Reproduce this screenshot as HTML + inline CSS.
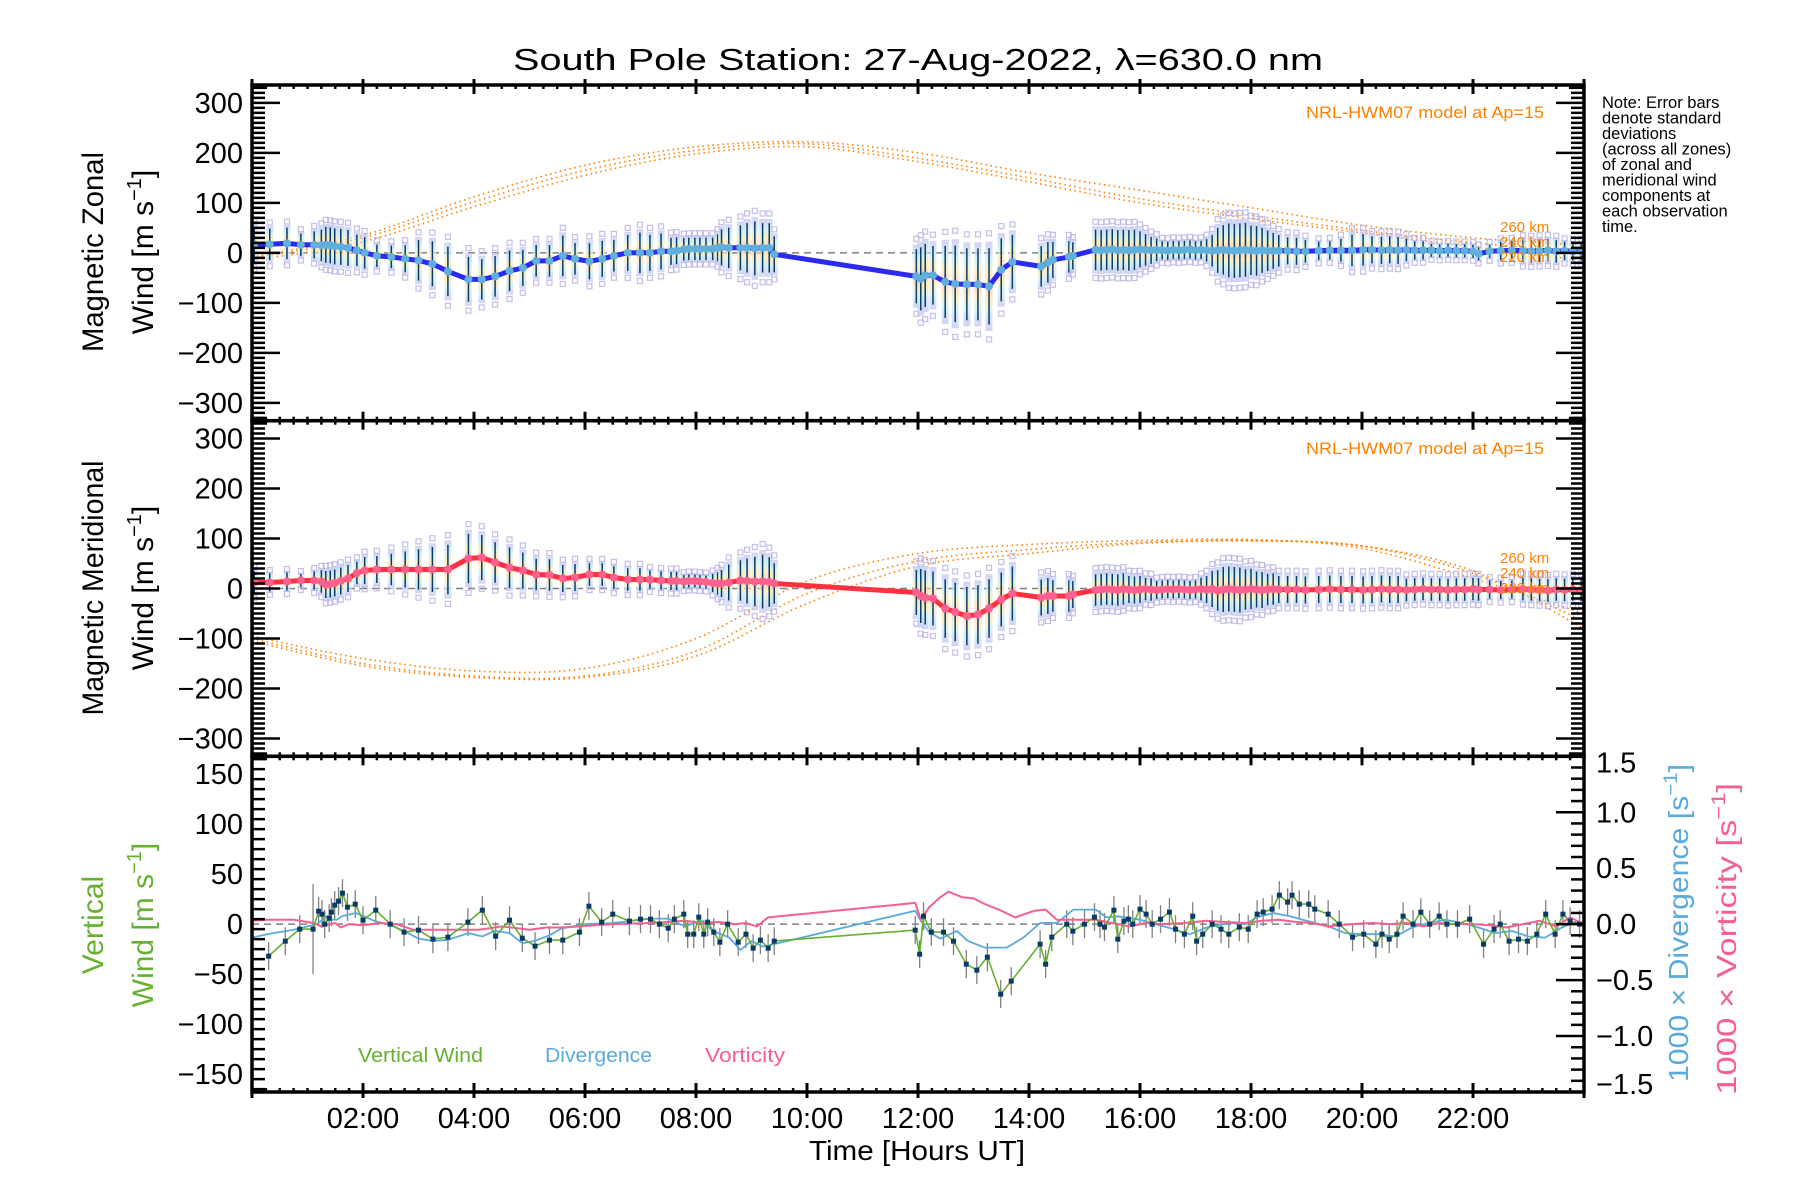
<!DOCTYPE html>
<html><head><meta charset="utf-8">
<style>
html,body{margin:0;padding:0;background:#fff;}
svg{display:block;font-family:"Liberation Sans",sans-serif;}
</style></head>
<body>
<svg id="chart" xmlns="http://www.w3.org/2000/svg" width="1800" height="1200" viewBox="0 0 1800 1200">
<defs>
<linearGradient id="rb" x1="0" y1="0" x2="0" y2="1">
<stop offset="0" stop-color="#c4c4f0"/><stop offset="0.2" stop-color="#c8ecf4"/><stop offset="0.35" stop-color="#fbeab0"/><stop offset="0.5" stop-color="#f9c3b3"/><stop offset="0.65" stop-color="#fbeab0"/><stop offset="0.8" stop-color="#c8ecf4"/><stop offset="1" stop-color="#c4c4f0"/>
</linearGradient>
</defs>
<text x="918" y="70" font-size="31" text-anchor="middle" textLength="810" lengthAdjust="spacingAndGlyphs">South Pole Station: 27-Aug-2022, λ=630.0 nm</text>
<g id="layer"></g>
<text font-size="16.5" fill="#000">
<tspan x="1602" y="108">Note: Error bars</tspan><tspan x="1602" y="123.5">denote standard</tspan><tspan x="1602" y="139">deviations</tspan><tspan x="1602" y="154.5">(across all zones)</tspan><tspan x="1602" y="170">of zonal and</tspan><tspan x="1602" y="185.5">meridional wind</tspan><tspan x="1602" y="201">components at</tspan><tspan x="1602" y="216.5">each observation</tspan><tspan x="1602" y="232">time.</tspan>
</text>
<text x="1544" y="118" font-size="17" fill="#ff8000" text-anchor="end" textLength="238" lengthAdjust="spacingAndGlyphs">NRL-HWM07 model at Ap=15</text>
<text x="1544" y="454" font-size="17" fill="#ff8000" text-anchor="end" textLength="238" lengthAdjust="spacingAndGlyphs">NRL-HWM07 model at Ap=15</text>
<g font-size="15" fill="#ff8000">
<text x="1500" y="232">260 km</text><text x="1500" y="247">240 km</text><text x="1500" y="262">220 km</text></g>
<g font-size="15" fill="#ff8000">
<text x="1500" y="563">260 km</text><text x="1500" y="578">240 km</text><text x="1500" y="593">220 km</text></g>
<text transform="translate(103,252) rotate(-90)" font-size="30" text-anchor="middle" textLength="200" lengthAdjust="spacingAndGlyphs">Magnetic Zonal</text>
<text transform="translate(153,252) rotate(-90)" font-size="30" text-anchor="middle">Wind [m s<tspan dy="-12" font-size="20">−1</tspan><tspan dy="12">]</tspan></text>
<text transform="translate(103,588) rotate(-90)" font-size="30" text-anchor="middle" textLength="255" lengthAdjust="spacingAndGlyphs">Magnetic Meridional</text>
<text transform="translate(153,588) rotate(-90)" font-size="30" text-anchor="middle">Wind [m s<tspan dy="-12" font-size="20">−1</tspan><tspan dy="12">]</tspan></text>
<text transform="translate(103,925) rotate(-90)" font-size="30" fill="#66b032" text-anchor="middle">Vertical</text>
<text transform="translate(153,925) rotate(-90)" font-size="30" fill="#66b032" text-anchor="middle">Wind [m s<tspan dy="-12" font-size="20">−1</tspan><tspan dy="12">]</tspan></text>
<text transform="translate(1688,923) rotate(-90)" font-size="28" fill="#5aaadc" text-anchor="middle" textLength="318" lengthAdjust="spacingAndGlyphs">1000 × Divergence [s<tspan dy="-11" font-size="19">−1</tspan><tspan dy="11">]</tspan></text>
<text transform="translate(1736,939) rotate(-90)" font-size="28" fill="#f5608c" text-anchor="middle" textLength="312" lengthAdjust="spacingAndGlyphs">1000 × Vorticity [s<tspan dy="-11" font-size="19">−1</tspan><tspan dy="11">]</tspan></text>
<text x="917" y="1160" font-size="28" text-anchor="middle" textLength="216" lengthAdjust="spacingAndGlyphs">Time [Hours UT]</text>
<text x="358" y="1062" font-size="20" fill="#66b032" textLength="125" lengthAdjust="spacingAndGlyphs">Vertical Wind</text>
<text x="545" y="1062" font-size="20" fill="#5aaadc" textLength="107" lengthAdjust="spacingAndGlyphs">Divergence</text>
<text x="705" y="1062" font-size="20" fill="#f5608c" textLength="80" lengthAdjust="spacingAndGlyphs">Vorticity</text>
</svg>
<script>
// ---- data ----
const obsT = [0.04,0.32,0.63,0.88,1.12,1.25,1.33,1.41,1.49,1.6,1.73,1.89,2.03,2.25,2.51,2.76,3.0,3.25,3.53,3.9,4.14,4.38,4.64,4.88,5.12,5.36,5.6,5.82,6.08,6.31,6.52,6.77,6.99,7.17,7.37,7.55,7.65,7.78,7.87,7.98,8.07,8.18,8.3,8.39,8.46,8.59,8.8,8.92,9.06,9.2,9.32,9.41,
11.97,12.05,12.13,12.27,12.49,12.67,12.88,13.08,13.28,13.5,13.7,14.22,14.34,14.43,14.72,14.79,
15.2,15.3,15.4,15.5,15.6,15.7,15.8,15.9,16.0,16.1,16.2,16.3,16.4,16.5,16.6,16.7,16.8,16.9,17.0,17.1,17.2,17.3,17.4,17.5,17.6,17.7,17.8,17.9,18.0,18.1,18.2,18.3,18.4,18.5,
18.66,18.82,18.98,19.22,19.42,19.62,19.82,20.02,20.18,20.35,20.5,20.65,20.8,20.95,21.1,21.25,21.4,21.55,21.7,21.85,22.0,22.1,22.3,22.5,22.7,22.9,23.05,23.2,23.35,23.5,23.65,23.8,23.95];
const zonalU = [17,17,19,16,16,15,16,15,13,12,10,5,0,-6,-8,-12,-15,-22,-37,-53,-53,-47,-36,-30,-16,-16,-6,-12,-17,-12,-6,0,0,0,3,3,4,7,8,8,8,8,8,10,11,10,10,10,9,10,10,-3,
-47,-52,-45,-45,-58,-62,-63,-63,-67,-34,-18,-27,-19,-14,-8,-6,
6,5,6,7,5,6,5,6,7,6,5,6,5,4,6,5,6,7,5,6,5,4,5,6,5,4,5,6,5,4,5,4,4,4,
4,3,3,4,5,5,5,6,6,5,6,5,6,5,5,5,4,5,4,4,3,-2,3,4,5,4,3,4,5,3,4,3,3];
const zonalSd = [40,35,35,25,30,35,40,40,40,40,40,35,35,25,25,30,45,50,55,50,45,45,45,40,35,35,45,35,40,40,35,40,45,40,40,30,30,25,25,25,25,25,25,30,40,45,50,55,60,55,55,40,
60,70,70,65,80,85,80,80,85,70,60,45,45,40,35,30,
45,45,45,45,45,45,45,45,40,35,30,25,20,20,20,20,20,20,20,20,25,35,50,55,60,60,60,60,55,55,50,45,40,35,
30,30,25,20,20,25,35,35,30,30,30,30,25,20,20,15,15,15,15,15,15,15,15,20,20,25,25,25,25,25,20,20,20];
const meridV = [12,12,14,16,16,14,8,9,11,15,20,31,36,38,38,38,38,38,38,60,62,52,42,36,28,27,20,22,28,28,22,18,18,18,16,15,15,14,15,15,14,13,11,10,10,12,16,15,14,14,13,10,
-8,-15,-18,-20,-40,-47,-55,-52,-40,-22,-10,-18,-15,-15,-15,-12,
-3,-2,-1,-2,-3,-1,-2,-3,-2,-1,-2,-3,-2,-1,-2,-1,-2,-3,-2,-1,-2,-1,-4,-2,-1,-2,-3,-2,-1,-2,-3,-2,-1,-2,
-2,-2,-3,-2,-1,-2,-2,-3,-2,-1,-2,-2,-3,-2,-1,-2,-2,-3,-2,-2,-1,-2,-2,-3,-2,-1,-2,-3,-4,-2,-3,-2,-3];
const meridSd = [25,20,20,15,20,25,30,30,30,30,30,25,30,30,35,40,45,50,55,55,50,45,45,40,35,35,30,30,25,25,25,25,25,20,20,20,20,15,15,15,15,15,20,25,30,40,45,50,55,60,55,45,
50,60,60,60,65,65,65,65,65,60,60,40,40,35,35,30,
35,35,35,35,35,35,30,30,30,25,25,20,20,20,20,20,20,20,20,25,30,40,45,50,50,50,50,45,45,40,40,35,35,30,
30,30,30,30,30,30,30,30,30,30,30,30,25,25,25,25,25,25,25,25,25,25,20,20,20,25,25,25,25,25,25,25,25];
const modelT = [0,2,4,6,8,10,12,14,16,18,20,22,24];
const zonA = [-8,35,112,175,212,222,200,160,125,90,55,30,15];
const zonB = [-11,30,102,165,205,218,189,150,108,75,45,20,2];
const zonC = [-15,22,92,155,198,212,182,142,100,68,40,12,-15];
const merA = [-95,-140,-165,-160,-100,15,70,88,96,98,80,20,-50];
const merB = [-100,-150,-175,-175,-125,-10,55,78,92,96,85,30,-65];
const merC = [-105,-155,-178,-178,-135,-30,45,70,90,95,85,35,-80];
const vT = [0.3,0.6,0.86,1.1,1.2,1.26,1.31,1.39,1.43,1.49,1.56,1.63,1.72,1.86,2.0,2.23,2.49,2.74,3.0,3.26,3.53,3.89,4.15,4.39,4.64,4.87,5.1,5.36,5.6,5.9,6.07,6.3,6.5,6.8,7.0,
7.18,7.34,7.5,7.61,7.78,7.85,7.96,8.05,8.14,8.21,8.32,8.43,8.57,8.76,8.9,9.03,9.16,9.3,9.41,
11.95,12.03,12.1,12.24,12.46,12.64,12.87,13.06,13.25,13.49,13.68,14.2,14.3,14.41,14.68,14.79,15.0,15.18,15.28,15.36,15.53,15.6,15.71,15.79,15.87,16.0,16.11,16.22,16.37,16.53,16.64,16.8,16.95,17.02,17.13,17.3,17.46,17.6,17.79,17.95,18.11,18.22,18.38,18.51,18.66,18.74,18.87,19.04,19.15,19.39,19.59,19.83,20.03,20.25,20.36,20.49,20.63,20.74,20.92,21.06,21.22,21.39,21.53,21.72,21.94,22.19,22.38,22.49,22.65,22.82,22.98,23.15,23.31,23.48,23.62,23.75,23.92];
const vW = [-32,-17,-5,-5,13,10,0,6,12,19,23,31,17,20,4,14,0,-8,-6,-15,-13,2,14,-12,4,-14,-22,-16,-16,-8,18,2,10,3,5,
5,0,-4,5,10,-10,-10,7,-10,2,-8,-18,0,-18,-10,-24,-16,-24,-17,
-6,-30,8,-8,-8,-17,-40,-46,-33,-70,-57,-20,-40,-13,0,-7,0,7,0,-3,14,-15,3,5,0,15,10,0,5,12,-5,-10,8,-17,-10,0,-5,-10,-3,-5,10,12,15,29,22,29,20,20,15,10,0,-13,-10,-20,-10,-15,-10,8,0,12,0,8,0,0,5,-20,-5,0,-17,-15,-17,-10,10,-10,10,3,0];
const divT = [0,0.27,0.75,1.17,1.35,1.44,1.53,1.62,1.87,2.02,2.2,2.5,2.74,3.0,3.26,3.53,3.9,4.15,4.37,4.64,4.87,5.1,5.36,5.57,6.0,6.5,7.18,7.5,7.8,8.1,8.3,8.6,8.8,9.0,9.2,9.4,11.95,12.05,12.2,12.4,12.7,12.9,13.2,13.6,13.9,14.2,14.5,14.8,15.2,15.4,15.6,16,16.5,16.9,17.2,17.6,17.9,18.1,18.4,18.7,19,19.4,19.7,20,20.3,20.6,20.9,21.2,21.5,21.8,22.1,22.4,22.7,23,23.3,23.6,23.9];
const divV = [-0.12,-0.09,-0.05,0,0.07,0.04,0.04,0.07,0.1,0.07,0.03,-0.01,-0.06,-0.13,-0.15,-0.14,-0.08,-0.11,-0.06,-0.08,-0.17,-0.15,-0.1,-0.04,0.0,0.01,0.05,0.05,-0.02,0.03,-0.06,-0.12,-0.23,-0.15,-0.2,-0.18,0.12,0.03,-0.07,-0.13,-0.06,-0.15,-0.21,-0.21,-0.12,0.01,0.01,0.13,0.13,0.06,0.07,0.04,-0.03,-0.09,-0.03,0.01,0,0.06,0.1,0.07,0.03,-0.02,-0.08,-0.09,-0.09,-0.11,-0.03,0.01,0.04,0.01,-0.03,-0.08,-0.06,-0.11,-0.12,-0.03,0.03];
const vorT = [0,0.27,0.75,1.1,1.25,1.5,1.6,1.75,2.0,2.3,2.6,2.9,3.3,3.6,4.1,4.5,5.0,5.3,5.6,6.5,7.18,7.5,7.8,8.1,8.4,8.7,8.9,9.1,9.3,11.95,12.05,12.2,12.4,12.55,12.8,13.0,13.2,13.5,13.75,14.1,14.3,14.5,14.8,15.2,15.5,15.8,16.1,16.4,16.8,17.2,17.5,17.9,18.2,18.5,18.8,19.1,19.4,19.8,20.2,20.5,20.8,21.1,21.4,21.7,22.0,22.3,22.6,22.9,23.2,23.5,23.75,23.95];
const vorV = [0.03,0.04,0.04,0.01,-0.02,0.01,-0.03,0,-0.01,0.01,0,-0.05,-0.05,-0.05,-0.05,-0.02,-0.05,-0.03,-0.03,0,0.01,0.02,0.03,0.01,0.02,0,0.01,-0.02,0.06,0.19,0.04,0.15,0.24,0.29,0.24,0.23,0.18,0.12,0.06,0.12,0.13,0.04,0.04,0.04,0.01,-0.02,0.01,0,0.01,0.03,0.02,0.01,0.03,0.04,0.02,0.01,-0.02,0,0.01,0,0.01,-0.02,0.01,0,0,-0.01,-0.03,0,0.03,-0.02,0.06,0.01];
const leftTicks12 = [-300,-200,-100,0,100,200,300];
const leftTicks3 = [-150,-100,-50,0,50,100,150];
const rightTicks3 = [-1.5,-1.0,-0.5,0.0,0.5,1.0,1.5];
const timeTicks = [2,4,6,8,10,12,14,16,18,20,22];

// ---- geometry ----
const L = 252, R = 1584;
const P = [{top:85,bot:420.7},{top:420.7,bot:756.3},{top:756.3,bot:1092}];
const NS = 'http://www.w3.org/2000/svg';
const layer = document.getElementById('layer');
function xs(h){ return L + (R-L)*h/24; }
function yP(i,v){ const p=P[i], c=(p.top+p.bot)/2; return i<2 ? c - v*0.5 : c - v*1.0; }
function yR(v){ const p=P[2], c=(p.top+p.bot)/2; return c - v*(p.bot-c)/1.5; }
function mk(tag, attrs, parent){ const e=document.createElementNS(NS,tag); for(const k in attrs) e.setAttribute(k, attrs[k]); (parent||layer).appendChild(e); return e; }
function grp(name){ const g=document.createElementNS(NS,'g');   layer.appendChild(g); return g; }
const fmt = t => (t<10?'0':'')+t+':00';

for (let i=0;i<3;i++){
  const z = mk('line',{x1:L,x2:R,y1:yP(i,0),y2:yP(i,0),stroke:'#808080','stroke-width':1.5,'stroke-dasharray':'7 5'});
  
  
}

function smoothPath(xsArr, ysArr){
  let d='M'+xsArr[0].toFixed(1)+','+ysArr[0].toFixed(1);
  for (let k=0;k<xsArr.length-1;k++){
    const x0=xsArr[Math.max(k-1,0)], y0=ysArr[Math.max(k-1,0)], x1=xsArr[k], y1=ysArr[k], x2=xsArr[k+1], y2=ysArr[k+1], x3=xsArr[Math.min(k+2,xsArr.length-1)], y3=ysArr[Math.min(k+2,xsArr.length-1)];
    d+='C'+(x1+(x2-x0)/6).toFixed(1)+','+(y1+(y2-y0)/6).toFixed(1)+' '+(x2-(x3-x1)/6).toFixed(1)+','+(y2-(y3-y1)/6).toFixed(1)+' '+x2.toFixed(1)+','+y2.toFixed(1);
  }
  return d;
}
function modelSmooth(i, arr, name){
  const e = mk('path',{d:smoothPath(modelT.map(xs), arr.map(v=>yP(i,v))),fill:'none',stroke:'#ff8000','stroke-width':1.6,'stroke-dasharray':'1.5 3.5'});
  
  
}
modelSmooth(0, zonA, 'zonal-model-260km');
modelSmooth(0, zonB, 'zonal-model-240km');
modelSmooth(0, zonC, 'zonal-model-220km');
modelSmooth(1, merA, 'meridional-model-260km');
modelSmooth(1, merB, 'meridional-model-240km');
modelSmooth(1, merC, 'meridional-model-220km');

function errBars(i, vals, sds, name){
  const g = grp(name);
  for (let k=0;k<obsT.length;k++){
    const x = xs(obsT[k]), v = vals[k], s = sds[k];
    const r = mk('rect',{x:x-3.5,y:yP(i,v+s*1.05),width:7,height:Math.max(2,yP(i,v-s*1.05)-yP(i,v+s*1.05)),fill:'url(#rb)',opacity:0.75},g);
    
    
    const ln = mk('line',{x1:x,x2:x,y1:yP(i,v+s*0.9),y2:yP(i,v-s*0.9),stroke:'#0a3a66','stroke-width':1.5},g);
    
    
    [1.25,-1.25].forEach(f=>{
      const q = mk('rect',{x:x-2.5,y:yP(i,v+s*f)-2.5,width:5,height:5,fill:'none',stroke:'#b8b4e4','stroke-width':1.2,opacity:0.85},g);
      
      
    });
  }
}
errBars(0, zonalU, zonalSd, 'zonal-error-bars');
errBars(1, meridV, meridSd, 'meridional-error-bars');

function seriesLine(i, tArr, vArr, color, width, name, yf){
  const f = yf || (v=>yP(i,v));
  let d='';
  const n = Math.min(tArr.length, vArr.length);
  for (let k=0;k<n;k++) d += (k?'L':'M') + xs(tArr[k]).toFixed(1)+','+f(vArr[k]).toFixed(1);
  const e = mk('path',{d:d,fill:'none',stroke:color,'stroke-width':width,'stroke-linejoin':'round'});
  
  
}
function dots(i, tArr, vArr, color, r, name){
  const g = grp(name);
  for (let k=0;k<Math.min(tArr.length,vArr.length);k++){
    const c = mk('circle',{cx:xs(tArr[k]),cy:yP(i,vArr[k]),r:r,fill:color},g);
    
    
  }
}
seriesLine(0, obsT, zonalU, '#2a2af0', 5, 'zonal-wind-line');
dots(0, obsT, zonalU, '#5fb0dc', 4, 'zonal-wind-points');
seriesLine(1, obsT, meridV, '#ff3040', 5, 'meridional-wind-line');
dots(1, obsT, meridV, '#ff6090', 4, 'meridional-wind-points');

const vg = grp('vertical-wind-error-bars');
for (let k=0;k<vT.length;k++){
  const x=xs(vT[k]), v=vW[k], s=(k===3?45:14);
  const e = mk('line',{x1:x,x2:x,y1:yP(2,v+s),y2:yP(2,v-s),stroke:'#808080','stroke-width':1.3},vg);
  
  
}
seriesLine(2, divT, divV, '#5aaadc', 1.8, 'divergence-line', yR);
seriesLine(2, vorT, vorV, '#f5608c', 2, 'vorticity-line', yR);
seriesLine(2, vT, vW, '#66b032', 1.6, 'vertical-wind-line');
const pg = grp('vertical-wind-points');
for (let k=0;k<vT.length;k++){
  const r = mk('rect',{x:xs(vT[k])-2.5,y:yP(2,vW[k])-2.5,width:5,height:5,fill:'#0a3a66'},pg);
  
  
}

const ax = grp('axes');
for (let i=0;i<3;i++){
  const b = mk('rect',{x:L,y:P[i].top,width:R-L,height:P[i].bot-P[i].top,fill:'none',stroke:'#000','stroke-width':3.5},ax);
  
  
  for (let m=0;m<=96;m++){
    const x = xs(m/4), major = (m%8===0);
    const lenIn = major?9:4, lenOut = major?6:0;
    mk('line',{x1:x,x2:x,y1:P[i].top-lenOut,y2:P[i].top+lenIn,stroke:'#000','stroke-width':major?3:2.5},ax);
    mk('line',{x1:x,x2:x,y1:P[i].bot-lenIn,y2:P[i].bot+lenOut,stroke:'#000','stroke-width':major?3:2.5},ax);
  }
  const step = 10, range = i<2?330:165;
  for (let v=-range; v<=range; v+=step){
    const y = yP(i,v); if (y<P[i].top+1||y>P[i].bot-1) continue;
    const major = (i<2 ? v%100===0 : v%50===0);
    const len = major?28:13;
    mk('line',{x1:L,x2:L+len,y1:y,y2:y,stroke:'#000','stroke-width':2.5},ax);
    if (i<2) mk('line',{x1:R-len,x2:R,y1:y,y2:y,stroke:'#000','stroke-width':2.5},ax);
  }
}
for (let k=-15;k<=15;k++){
  const v=k/10, y=yR(v), major=(k%5===0), len=major?28:13;
  mk('line',{x1:R-len,x2:R,y1:y,y2:y,stroke:'#000','stroke-width':2.5},ax);
}
const lab = grp('tick-labels');
function tl(x,y,txt,anchor,name){
  const t = mk('text',{x:x,y:y,'font-size':29,'text-anchor':anchor},lab);
  t.textContent = txt;
  
  
}
for (let i=0;i<2;i++) leftTicks12.forEach(v=>tl(243, yP(i,v)+10, (v<0?'−':'')+Math.abs(v), 'end', 'y-tick-label'));
leftTicks3.forEach(v=>tl(243, yP(2,v)+10, (v<0?'−':'')+Math.abs(v), 'end', 'vertical-y-tick-label'));
rightTicks3.forEach(v=>tl(1596, yR(v)+10+(v===1.5?6:0)+(v===-1.5?-8:0), (v<0?'−':'')+Math.abs(v).toFixed(1), 'start', 'right-y-tick-label'));
timeTicks.forEach(h=>tl(xs(h), 1128, fmt(h), 'middle', 'x-tick-label'));
</script>
</body></html>
